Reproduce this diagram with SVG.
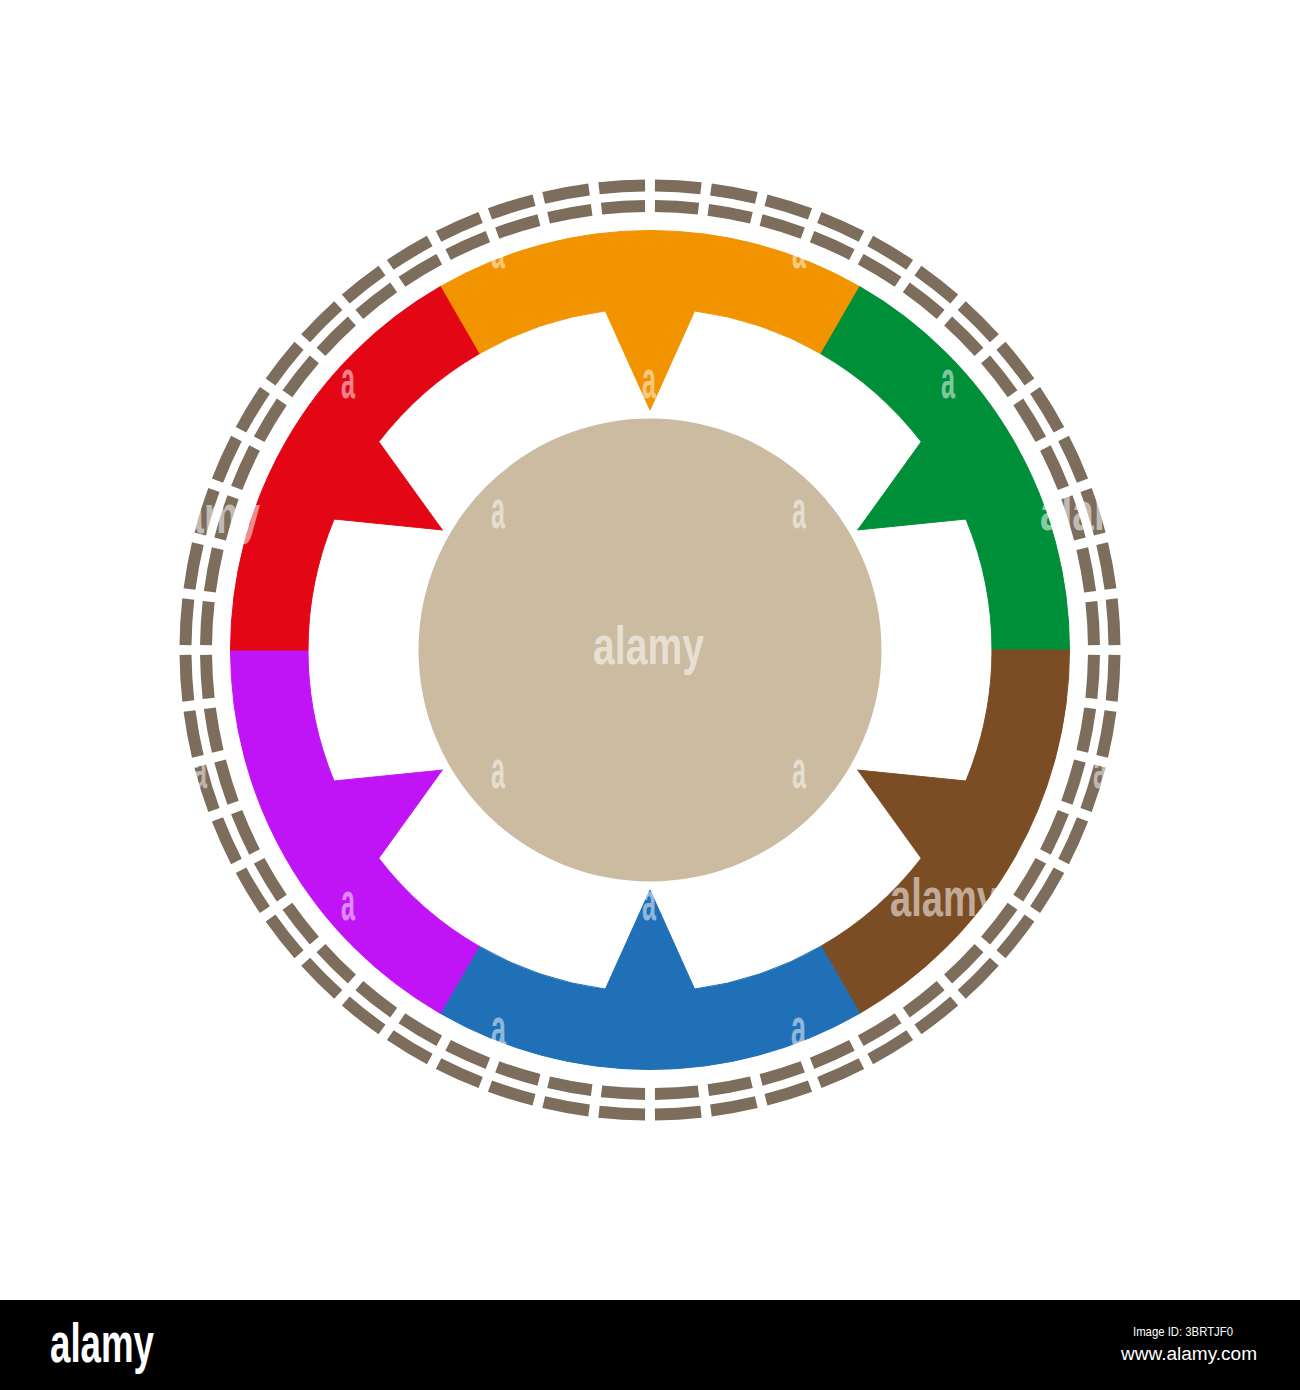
<svg xmlns="http://www.w3.org/2000/svg" xmlns:xlink="http://www.w3.org/1999/xlink" width="1300" height="1390" viewBox="0 0 1300 1390">
  <style>
    .dash { fill: none; stroke: #7c6d5c; stroke-width: 12; }
    .seg path { stroke-width: 0.6; stroke-linejoin: miter; }
    .wm { font-family: "Liberation Sans Narrow", "Liberation Sans", Arial, sans-serif; font-weight: bold; fill: #ffffff; }
    .wa { font-size: 54px; fill-opacity: 0.5; }
    .wl { font-size: 54px; fill-opacity: 0.55; }
    .band { font-family: "Liberation Sans Narrow", "Liberation Sans", Arial, sans-serif; fill: #ffffff; }
  </style>
  <defs>
    <path id="segshape" d="M -209.75 -363.3 A 419.5 419.5 0 0 1 209.75 -363.3 L 171 -296.18 A 342 342 0 0 0 44.64 -339.07 L 0 -240 L -44.64 -339.07 A 342 342 0 0 0 -171 -296.18 Z"/>
  </defs>
  <rect x="0" y="0" width="1300" height="1390" fill="#ffffff"/>

  <g id="dashed-rings">
    <circle class="dash" cx="650" cy="650" r="464.5" pathLength="52" stroke-dasharray="0.822 0.178" stroke-dashoffset="0.911"/>
    <circle class="dash" cx="650" cy="650" r="444" pathLength="52" stroke-dasharray="0.814 0.186" stroke-dashoffset="0.907"/>
  </g>

  <g id="seg-orange" class="seg" transform="translate(650 650)"><use xlink:href="#segshape" href="#segshape" fill="#f29300" stroke="#f29300"/></g>
  <g id="seg-green" class="seg" transform="translate(650 650) rotate(60)"><use xlink:href="#segshape" href="#segshape" fill="#008f39" stroke="#008f39"/></g>
  <g id="seg-brown" class="seg" transform="translate(650 650) rotate(120)"><use xlink:href="#segshape" href="#segshape" fill="#7b4d24" stroke="#7b4d24"/></g>
  <g id="seg-blue" class="seg" transform="translate(650 650) rotate(180)"><use xlink:href="#segshape" href="#segshape" fill="#1f70b7" stroke="#1f70b7"/></g>
  <g id="seg-purple" class="seg" transform="translate(650 650) rotate(240)"><use xlink:href="#segshape" href="#segshape" fill="#c014f7" stroke="#c014f7"/></g>
  <g id="seg-red" class="seg" transform="translate(650 650) rotate(300)"><use xlink:href="#segshape" href="#segshape" fill="#e30614" stroke="#e30614"/></g>

  <g id="center">
    <circle cx="650" cy="650" r="231.5" fill="#cbbba1"/>
  </g>

  <g id="watermark" class="wm">
    <text class="wa" x="491" y="268" textLength="14" lengthAdjust="spacingAndGlyphs">a</text>
    <text class="wa" x="792" y="268" textLength="14" lengthAdjust="spacingAndGlyphs">a</text>
    <text class="wa" x="341" y="398" textLength="14" lengthAdjust="spacingAndGlyphs">a</text>
    <text class="wa" x="642" y="398" textLength="14" lengthAdjust="spacingAndGlyphs">a</text>
    <text class="wa" x="941" y="398" textLength="14" lengthAdjust="spacingAndGlyphs">a</text>
    <text class="wa" x="491" y="528" textLength="14" lengthAdjust="spacingAndGlyphs">a</text>
    <text class="wa" x="792" y="528" textLength="14" lengthAdjust="spacingAndGlyphs">a</text>
    <text class="wa" x="193" y="788" textLength="14" lengthAdjust="spacingAndGlyphs">a</text>
    <text class="wa" x="491" y="788" textLength="14" lengthAdjust="spacingAndGlyphs">a</text>
    <text class="wa" x="792" y="788" textLength="14" lengthAdjust="spacingAndGlyphs">a</text>
    <text class="wa" x="1093" y="788" textLength="14" lengthAdjust="spacingAndGlyphs">a</text>
    <text class="wa" x="341" y="920" textLength="14" lengthAdjust="spacingAndGlyphs">a</text>
    <text class="wa" x="642" y="920" textLength="14" lengthAdjust="spacingAndGlyphs">a</text>
    <text class="wa" x="491" y="1046" textLength="15" lengthAdjust="spacingAndGlyphs">a</text>
    <text class="wa" x="791" y="1046" textLength="15" lengthAdjust="spacingAndGlyphs">a</text>
    <text class="wl" x="593" y="664" textLength="111" lengthAdjust="spacingAndGlyphs" fill-opacity="0.6">alamy</text>
    <text class="wl" x="890" y="916" textLength="108" lengthAdjust="spacingAndGlyphs">alamy</text>
    <text class="wl" x="150" y="533" textLength="110" lengthAdjust="spacingAndGlyphs">alamy</text>
    <text class="wl" x="1040" y="530" textLength="110" lengthAdjust="spacingAndGlyphs">alamy</text>
  </g>

  <g id="footer">
    <rect x="0" y="1300" width="1300" height="90" fill="#000000"/>
    <text class="band" x="50" y="1362" font-size="56" font-weight="bold" textLength="104" lengthAdjust="spacingAndGlyphs">alamy</text>
    <text class="band" x="1183" y="1336" font-size="13" text-anchor="middle" textLength="100" lengthAdjust="spacingAndGlyphs">Image ID: 3BRTJF0</text>
    <text class="band" x="1189" y="1360" font-size="18" text-anchor="middle" textLength="136" lengthAdjust="spacingAndGlyphs">www.alamy.com</text>
  </g>
</svg>
